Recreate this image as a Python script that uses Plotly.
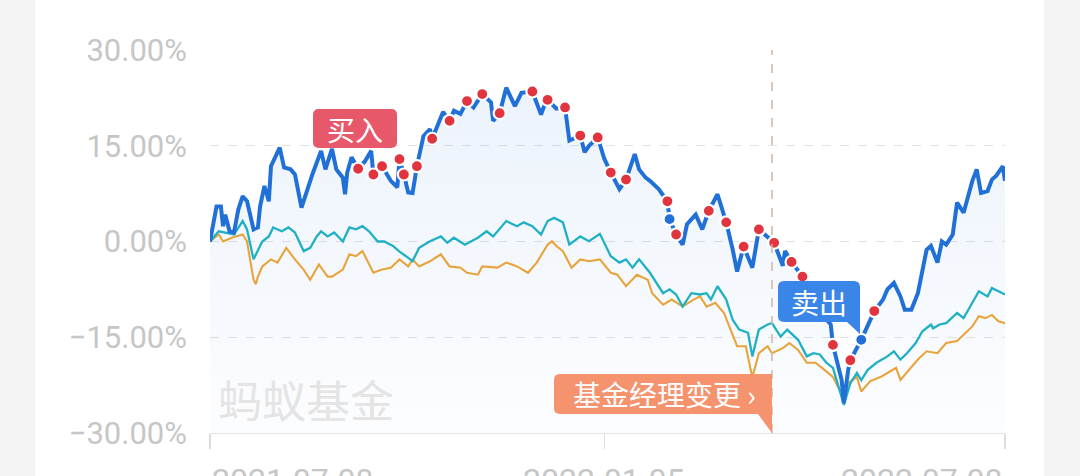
import pandas as pd
import plotly.graph_objects as go

# ---------------- data ----------------
START_DATE = "2021-07-08"
END_DATE = "2022-07-08"

# fund (blue) : day offset from START_DATE, cumulative return %
FUND_DAYS = [0, 3, 5, 6, 7, 9, 11, 13, 15, 17, 20, 22, 23, 25, 27, 28, 32, 34, 37, 39,
             42, 45, 47, 51, 53, 56, 58, 61, 62, 63, 65, 68, 71, 74, 75, 79, 83, 86, 87, 89,
             91, 93, 95, 98, 101, 102, 107, 110, 112, 115, 118, 121, 125, 129, 130, 133, 136, 140, 143, 148,
             152, 154, 155, 159, 163, 165, 170, 172, 174, 178, 181, 184, 188, 191, 195, 197, 200, 202, 206, 210,
             211, 214, 217, 219, 223, 226, 229, 233, 237, 240, 242, 245, 249, 252, 256, 259, 263, 264, 267, 272,
             275, 280, 285, 286, 290, 291, 293, 294, 299, 302, 305, 309, 311, 314, 317, 319, 322, 325, 329, 331,
             334, 336, 338, 341, 343, 346, 350, 352, 354, 357, 359, 361, 364, 365]
FUND_VALUES = [0, 5.5, 5.5, 2.4, 4.2, 1.6, 1.4, 5.0, 7.1, 6.3, 1.9, 2.2, 5.5, 8.7, 6.3, 11.8, 14.7, 11.6, 11.3, 10.5,
               5.3, 8.7, 10.5, 14.2, 11.3, 14.5, 11.3, 10.0, 7.4, 10.8, 13.2, 11.4, 12.5, 14.2, 10.5, 11.8, 9.5, 8.5, 12.9, 10.5,
               7.7, 7.6, 11.8, 16.5, 17.6, 16.1, 20.3, 18.9, 20.5, 20.0, 22.0, 21.0, 23.1, 21.8, 18.9, 20.1, 24.1, 21.2, 23.3, 23.5,
               19.9, 21.8, 22.2, 20.8, 21.0, 15.8, 16.6, 14.0, 15.0, 16.3, 13.0, 10.8, 8.2, 9.7, 13.7, 11.3, 10.0, 9.5, 8.2, 6.3,
               3.5, 1.1, -0.5, 2.7, 4.2, 1.9, 4.8, 7.4, 3.0, -1.3, -4.7, -0.8, -4.1, 1.9, 0.8, -0.2, -3.8, -1.5, -3.2, -5.5,
               -8.0, -11.0, -13.0, -16.2, -21.7, -25.3, -20.1, -18.6, -15.4, -13.0, -10.9, -9.1, -7.5, -6.5, -8.6, -10.7, -10.7, -8.1, -1.3, -0.7,
               -3.3, 0, -0.5, 1.1, 6.1, 4.5, 9.5, 11.3, 7.6, 7.9, 9.7, 10.3, 11.8, 9.5]

# benchmark (teal)
BENCH_DAYS = [0, 4, 7, 11, 15, 17, 20, 22, 24, 27, 29, 33, 36, 39, 43, 46, 49, 51, 54, 57,
              61, 64, 67, 70, 73, 77, 80, 84, 87, 90, 93, 96, 101, 106, 109, 112, 117, 123, 127, 130,
              136, 141, 144, 148, 152, 155, 158, 162, 165, 170, 174, 179, 184, 188, 191, 194, 197, 202, 208, 211,
              214, 217, 221, 225, 228, 230, 233, 237, 240, 243, 247, 249, 252, 256, 258, 262, 265, 270, 274, 277,
              280, 283, 286, 289, 291, 294, 297, 299, 302, 306, 311, 314, 317, 320, 324, 327, 331, 332, 335, 338,
              343, 346, 350, 353, 357, 359, 362, 365]
BENCH_VALUES = [0, 1.6, 1.4, 1.1, 3.2, 1.9, -2.8, -1.3, 0, 0.8, 2.2, 1.6, 2.2, 1.4, -1.5, -1.0, 0.8, 1.6, 0.8, 1.4,
                0, 2.2, 1.9, 2.4, 1.6, 0, 0, -0.7, -1.6, -2.3, -3.1, -1.0, 0.05, 0.8, -0.2, 0.6, -0.5, 0.6, 1.6, 0.8,
                3.2, 2.4, 3.0, 2.4, 1.1, 3.2, 3.7, 3.0, -0.5, 0.8, 0.05, 1.2, -2.3, -3.3, -2.8, -4.1, -2.8, -4.9, -8.1, -7.5,
                -8.3, -10.2, -8.1, -8.3, -8.1, -9.1, -7.0, -9.1, -12.3, -13.8, -14.3, -18.0, -13.8, -13.0, -12.8, -14.9, -13.8, -15.4, -18.0, -17.5,
                -17.7, -19.0, -19.8, -23.2, -25.6, -22.2, -20.6, -21.7, -20.1, -19.0, -18.0, -17.2, -18.5, -17.5, -15.9, -14.1, -13.0, -13.6, -13.0, -12.8,
                -11.2, -12.0, -9.6, -7.8, -8.6, -7.3, -7.8, -8.3]

# index (orange)
INDEX_DAYS = [0, 4, 6, 10, 15, 17, 20, 21, 22, 24, 28, 31, 35, 39, 43, 46, 50, 54, 56, 61,
              64, 67, 70, 75, 79, 83, 87, 91, 93, 96, 101, 106, 110, 115, 118, 123, 125, 132, 136, 141,
              146, 150, 155, 157, 159, 162, 166, 170, 174, 179, 184, 187, 191, 196, 201, 203, 208, 212, 217, 222,
              225, 228, 232, 236, 239, 242, 246, 249, 252, 256, 258, 263, 266, 270, 274, 278, 281, 286, 291, 293,
              297, 299, 303, 308, 312, 315, 317, 321, 325, 329, 334, 338, 343, 346, 350, 353, 356, 359, 362, 365]
INDEX_VALUES = [0, 1.1, 0, 0.6, 1.1, 0, -6.0, -6.7, -5.5, -3.9, -2.8, -3.3, -1.0, -2.8, -4.4, -6.0, -3.6, -5.5, -5.5, -4.4,
                -2.0, -2.3, -1.5, -4.9, -4.4, -4.1, -2.8, -3.9, -2.8, -3.9, -3.1, -2.0, -3.9, -4.1, -4.9, -5.2, -3.9, -4.1, -3.3, -3.9,
                -4.9, -3.3, -0.5, 0.05, -0.7, -1.5, -4.1, -2.8, -3.1, -2.8, -4.9, -5.2, -7.0, -5.2, -6.0, -8.1, -9.9, -9.1, -10.2, -9.1,
                -8.6, -10.2, -9.6, -11.2, -13.8, -16.4, -16.4, -21.3, -17.5, -16.4, -17.5, -16.7, -15.9, -17.0, -19.0, -19.0, -19.8, -21.2, -24.6, -22.2,
                -21.2, -23.5, -21.9, -21.2, -20.4, -19.8, -21.7, -20.1, -18.5, -17.2, -17.5, -15.9, -15.6, -14.6, -13.3, -11.7, -12.0, -11.5, -12.5, -12.8]

# trade markers on the fund line (day offsets)
RED_DOT_DAYS = [68, 75, 79, 87, 89, 95, 102, 110, 118, 125, 133, 148, 155, 163, 170, 178, 184, 191,
                210, 214, 229, 237, 245, 252, 259, 267, 272, 286, 294, 305]
BLUE_DOT_DAYS = [211, 299]

MANAGER_CHANGE_DATE = "2022-03-23"

Y_TICKS = [30, 15, 0, -15, -30]
Y_TICK_TEXT = ["30.00%", "15.00%", "0.00%", "\u221215.00%", "\u221230.00%"]
X_TICKS = ["2021-07-08", "2022-01-05", "2022-07-08"]

WATERMARK = "蚂蚁基金"
BUY_TEXT = "买入"
SELL_TEXT = "卖出"
MANAGER_TEXT = "基金经理变更 \u203a"

# ---------------- styling ----------------
C_FUND = "#2170D8"
C_BENCH = "#1FB0C6"
C_INDEX = "#E8A43C"
C_RED = "#E0343F"
C_BUY = "#E7586A"
C_SELL = "#3A86E8"
C_MANAGER = "#F5936F"
C_TICK = "#c6c6c6"
CJK = "Noto Sans CJK SC"

W, H = 1080, 476
L, R, T, B = 210, 1005, 50, 433   # plot area in page pixels
Y_MIN, Y_MAX = -30, 30


def px(x):
    return (x - L) / (R - L)


def py(y):
    return (B - y) / (B - T)


def path(points):
    # points: list of ("M"/"L"/"Q", coords...) in page pixels -> paper path
    out = []
    for seg in points:
        cmd, coords = seg[0], seg[1:]
        conv = []
        for (a, b) in coords:
            conv.append(f"{px(a):.5f},{py(b):.5f}")
        out.append(cmd + " ".join(conv))
    return " ".join(out) + " Z"


start = pd.Timestamp(START_DATE)


def to_dates(days):
    return [start + pd.Timedelta(days=d) for d in days]


fund_x = to_dates(FUND_DAYS)
bench_x = to_dates(BENCH_DAYS)
index_x = to_dates(INDEX_DAYS)
fund_lookup = dict(zip(FUND_DAYS, FUND_VALUES))
red_x = to_dates(RED_DOT_DAYS)
red_y = [fund_lookup[d] for d in RED_DOT_DAYS]
blue_x = to_dates(BLUE_DOT_DAYS)
blue_y = [fund_lookup[d] for d in BLUE_DOT_DAYS]

fig = go.Figure()

# baseline for area fill
fig.add_trace(go.Scatter(x=fund_x, y=[Y_MIN] * len(fund_x), mode="lines",
                         line=dict(width=0, color="rgba(0,0,0,0)"), hoverinfo="skip",
                         showlegend=False))
fig.add_trace(go.Scatter(x=fund_x, y=FUND_VALUES, mode="lines", fill="tonexty",
                         line=dict(width=0, color="rgba(0,0,0,0)"),
                         fillgradient=dict(type="vertical",
                                           colorscale=[[0, "rgba(36,114,218,0.015)"],
                                                       [1, "rgba(36,114,218,0.085)"]]),
                         hoverinfo="skip", showlegend=False))
fig.add_trace(go.Scatter(x=index_x, y=INDEX_VALUES, mode="lines",
                         line=dict(width=2.1, color=C_INDEX), showlegend=False))
fig.add_trace(go.Scatter(x=bench_x, y=BENCH_VALUES, mode="lines",
                         line=dict(width=2.3, color=C_BENCH), showlegend=False))
fig.add_trace(go.Scatter(x=fund_x, y=FUND_VALUES, mode="lines",
                         line=dict(width=4, color=C_FUND), showlegend=False))
fig.add_trace(go.Scatter(x=red_x, y=red_y, mode="markers",
                         marker=dict(size=12, color=C_RED, line=dict(width=2.2, color="white")),
                         showlegend=False))
fig.add_trace(go.Scatter(x=blue_x, y=blue_y, mode="markers",
                         marker=dict(size=12, color=C_FUND, line=dict(width=2.2, color="white")),
                         showlegend=False))

shapes = []
# white card behind the chart
shapes.append(dict(type="rect", xref="paper", yref="paper",
                   x0=px(35), x1=px(1044), y0=py(480), y1=py(-5),
                   fillcolor="white", line=dict(width=0), layer="below"))
# manager change dashed line
shapes.append(dict(type="line", xref="x", yref="paper",
                   x0=MANAGER_CHANGE_DATE, x1=MANAGER_CHANGE_DATE, y0=0, y1=1,
                   line=dict(color="#cbb8a6", width=1.5, dash="dash"), layer="above"))

r = 6
# buy box
bx0, by0, bx1, by1 = 313, 109, 397, 148
shapes.append(dict(type="path", xref="paper", yref="paper", fillcolor=C_BUY, line=dict(width=0),
                   path=path([("M", (bx0 + r, by0)), ("L", (bx1 - r, by0)), ("Q", (bx1, by0), (bx1, by0 + r)),
                              ("L", (bx1, by1 - r)), ("Q", (bx1, by1), (bx1 - r, by1)),
                              ("L", (bx0 + r, by1)), ("Q", (bx0, by1), (bx0, by1 - r)),
                              ("L", (bx0, by0 + r)), ("Q", (bx0, by0), (bx0 + r, by0))])))
# sell box with tail
sx0, sy0, sx1, sy1 = 778, 281, 860, 322
shapes.append(dict(type="path", xref="paper", yref="paper", fillcolor=C_SELL, line=dict(width=0),
                   path=path([("M", (sx0 + r, sy0)), ("L", (sx1 - r, sy0)), ("Q", (sx1, sy0), (sx1, sy0 + r)),
                              ("L", (sx1, sy1 + 12)), ("L", (sx1 - 13, sy1)),
                              ("L", (sx0 + r, sy1)), ("Q", (sx0, sy1), (sx0, sy1 - r)),
                              ("L", (sx0, sy0 + r)), ("Q", (sx0, sy0), (sx0 + r, sy0))])))
# manager box with tail to the axis
mx0, my0, mx1, my1 = 554, 374, 772, 414
shapes.append(dict(type="path", xref="paper", yref="paper", fillcolor=C_MANAGER, line=dict(width=0),
                   path=path([("M", (mx0 + r, my0)), ("L", (mx1, my0)), ("L", (mx1, 433)),
                              ("L", (mx1 - 14, my1)), ("L", (mx0 + r, my1)), ("Q", (mx0, my1), (mx0, my1 - r)),
                              ("L", (mx0, my0 + r)), ("Q", (mx0, my0), (mx0 + r, my0))])))

annotations = [
    dict(text=WATERMARK, xref="paper", yref="paper", x=px(306), y=py(399), showarrow=False,
         xanchor="center", yanchor="middle",
         font=dict(family=CJK, size=44, color="#e4e4e4")),
    dict(text=BUY_TEXT, xref="paper", yref="paper", x=px((bx0 + bx1) / 2), y=py((by0 + by1) / 2),
         xanchor="center", yanchor="middle",
         showarrow=False, font=dict(family=CJK, size=28, color="white")),
    dict(text=SELL_TEXT, xref="paper", yref="paper", x=px((sx0 + sx1) / 2), y=py((sy0 + sy1) / 2),
         xanchor="center", yanchor="middle",
         showarrow=False, font=dict(family=CJK, size=28, color="white")),
    dict(text=MANAGER_TEXT, xref="paper", yref="paper", x=px(664), y=py(394),
         xanchor="center", yanchor="middle",
         showarrow=False, font=dict(family=CJK, size=28, color="white")),
]
anchors = ["left", "center", "right"]
for t, a in zip(X_TICKS, anchors):
    annotations.append(dict(text=t, xref="x", yref="paper", x=t, y=py(459), yanchor="top",
                            xanchor=a, showarrow=False,
                            font=dict(family="Roboto", size=32, color=C_TICK)))

fig.update_layout(
    width=W, height=H,
    margin=dict(l=L, r=W - R, t=T, b=H - B, pad=0),
    paper_bgcolor="#f4f4f5",
    plot_bgcolor="white",
    showlegend=False,
    hovermode=False,
    shapes=shapes,
    annotations=annotations,
    xaxis=dict(type="date", range=[START_DATE, END_DATE], showgrid=False, zeroline=False,
               tickvals=X_TICKS, showticklabels=False, ticks="outside", ticklen=15,
               tickcolor="#dddddd", tickwidth=1.2,
               showline=True, linecolor="#e3e3e3", linewidth=1),
    yaxis=dict(range=[Y_MIN, Y_MAX], tickvals=Y_TICKS, ticktext=Y_TICK_TEXT,
               showgrid=True, gridcolor="#e2e2e2", griddash="dash", gridwidth=1,
               zeroline=False, showline=False, ticks="", ticklabelstandoff=22,
               tickfont=dict(family="Roboto", size=31, color=C_TICK)),
)

fig.write_html("out.html", config={"displayModeBar": False, "staticPlot": True},
               post_script="document.body.style.margin='0';document.body.style.overflow='hidden';")
